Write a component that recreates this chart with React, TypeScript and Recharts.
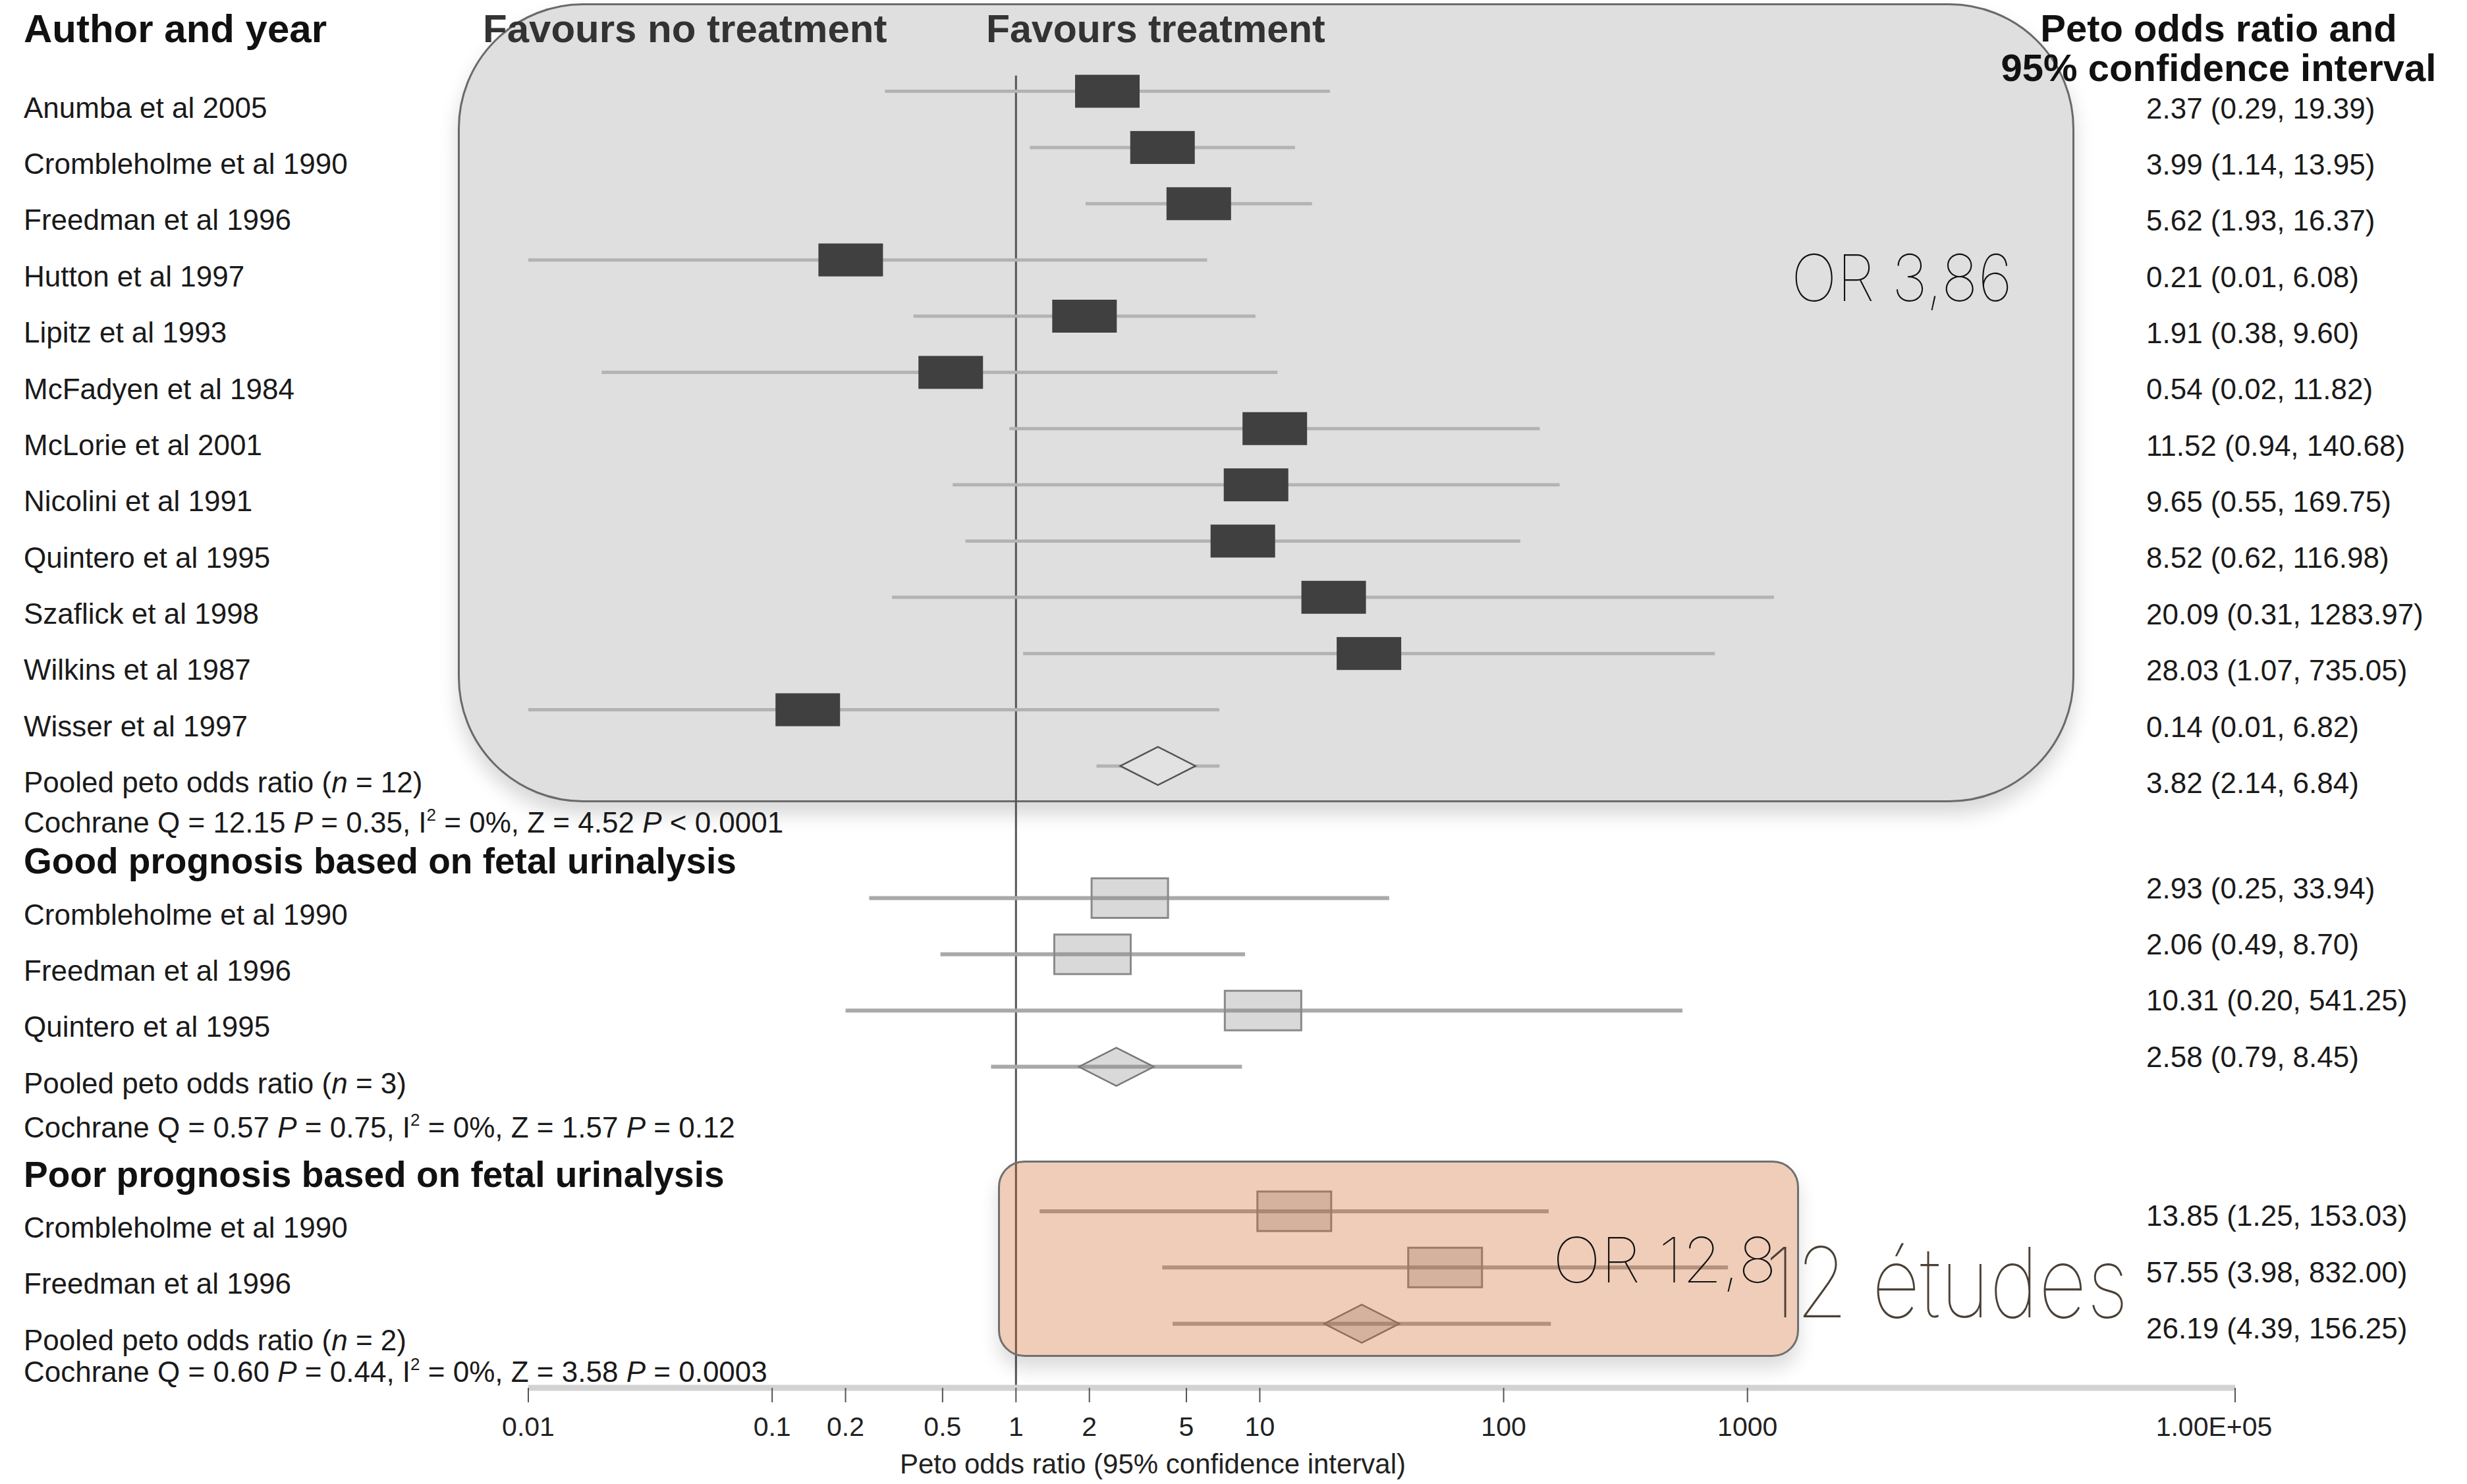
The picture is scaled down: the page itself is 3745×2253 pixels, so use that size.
import React from "react";
import { ComposedChart, Scatter, XAxis, YAxis, ErrorBar, ReferenceLine } from "recharts";

// all studies
const group1Names = [
  "Anumba et al 2005",
  "Crombleholme et al 1990",
  "Freedman et al 1996",
  "Hutton et al 1997",
  "Lipitz et al 1993",
  "McFadyen et al 1984",
  "McLorie et al 2001",
  "Nicolini et al 1991",
  "Quintero et al 1995",
  "Szaflick et al 1998",
  "Wilkins et al 1987",
  "Wisser et al 1997",
];
const group1OR = [2.37, 3.99, 5.62, 0.21, 1.91, 0.54, 11.52, 9.65, 8.52, 20.09, 28.03, 0.14];
const group1Lower = [0.29, 1.14, 1.93, 0.01, 0.38, 0.02, 0.94, 0.55, 0.62, 0.31, 1.07, 0.01];
const group1Upper = [19.39, 13.95, 16.37, 6.08, 9.6, 11.82, 140.68, 169.75, 116.98, 1283.97, 735.05, 6.82];

// good prognosis
const group2Names = ["Crombleholme et al 1990", "Freedman et al 1996", "Quintero et al 1995"];
const group2OR = [2.93, 2.06, 10.31];
const group2Lower = [0.25, 0.49, 0.2];
const group2Upper = [33.94, 8.7, 541.25];

// poor prognosis
const group3Names = ["Crombleholme et al 1990", "Freedman et al 1996"];
const group3OR = [13.85, 57.55];
const group3Lower = [1.25, 3.98];
const group3Upper = [153.03, 832.0];

const groupTitles = ["", "Good prognosis based on fetal urinalysis", "Poor prognosis based on fetal urinalysis"];

const pooledN = [12, 3, 2];
const pooledOR = [3.82, 2.58, 26.19];
const pooledLower = [2.14, 0.79, 4.39];
const pooledUpper = [6.84, 8.45, 156.25];

const cochraneQ = ["12.15", "0.57", "0.60"];
const cochraneP = ["0.35", "0.75", "0.44"];
const iSquared = ["0%", "0%", "0%"];
const zValues = ["4.52", "1.57", "3.58"];
const zP = ["< 0.0001", "= 0.12", "= 0.0003"];

const xTicks = [0.01, 0.1, 0.2, 0.5, 1, 2, 5, 10, 100, 1000, 100000];

// layout
const FONT = "'Liberation Sans', Arial, Helvetica, sans-serif";
const THIN = "Inter, 'Liberation Sans', sans-serif";
const W = 3745;
const H = 2253;
const Y_DOMAIN: [number, number] = [-0.5, 24.06];
const GROUP_START = [1, 15.35, 20.92];
const LABEL_OFF = 0.29;
const CI_OFF = [0.3, -0.18, 0.08];
const COCHRANE_OFF = [1.0, 1.08, 0.85];
const TITLE_OFF = -0.66;
const HEADER_Y = -0.12;

const MARK_STYLE = [
  { boxW: 98, boxH: 50, boxFill: "#404040", boxStroke: "none", line: "#b3b3b3", lineW: 5, dFill: "#e2e2e2", dStroke: "#555" },
  { boxW: 116, boxH: 60, boxFill: "rgba(128,128,128,0.3)", boxStroke: "#8a8a8a", line: "#a9a9a9", lineW: 6, dFill: "rgba(128,128,128,0.3)", dStroke: "#777" },
  { boxW: 112, boxH: 60, boxFill: "rgba(128,128,128,0.3)", boxStroke: "#8a8a8a", line: "#a9a9a9", lineW: 6, dFill: "rgba(128,128,128,0.3)", dStroke: "#777" },
];

const groups = [
  { names: group1Names, or: group1OR, lo: group1Lower, hi: group1Upper },
  { names: group2Names, or: group2OR, lo: group2Lower, hi: group2Upper },
  { names: group3Names, or: group3OR, lo: group3Lower, hi: group3Upper },
];

const fmt = (v: number) => v.toFixed(2);
const key = (v: number) => v.toFixed(3);

type TextItem = {
  x: number;
  anchor: "start" | "middle";
  size: number;
  bold?: boolean;
  color: string;
  content: React.ReactNode;
};

const leftMap = new Map<string, TextItem[]>();
const leftTicks: number[] = [];
const rightMap = new Map<string, TextItem[]>();
const rightTicks: number[] = [];

function addText(map: Map<string, TextItem[]>, ticks: number[], y: number, item: TextItem) {
  const k = key(y);
  if (!map.has(k)) {
    map.set(k, []);
    ticks.push(Number(k));
  }
  map.get(k)!.push(item);
}

const LABEL_X = 36;
const CI_X = 3258;
const PETO_X = 3368;
const plain = (content: React.ReactNode): TextItem => ({ x: LABEL_X, anchor: "start", size: 44, color: "#1a1a1a", content });
const ci = (content: React.ReactNode): TextItem => ({ x: CI_X, anchor: "start", size: 44, color: "#1a1a1a", content });

addText(leftMap, leftTicks, HEADER_Y, { x: LABEL_X, anchor: "start", size: 60, bold: true, color: "#111", content: "Author and year" });
addText(leftMap, leftTicks, HEADER_Y, { x: 733, anchor: "start", size: 60, bold: true, color: "#333", content: "Favours no treatment" });
addText(leftMap, leftTicks, HEADER_Y, { x: 1497, anchor: "start", size: 59, bold: true, color: "#333", content: "Favours treatment" });
addText(rightMap, rightTicks, HEADER_Y, { x: PETO_X, anchor: "middle", size: 58, bold: true, color: "#111", content: "Peto odds ratio and" });
addText(rightMap, rightTicks, 0.58, { x: PETO_X, anchor: "middle", size: 58, bold: true, color: "#111", content: "95% confidence interval" });

const seriesData = groups.map((g, gi) => {
  const start = GROUP_START[gi];
  if (groupTitles[gi]) {
    addText(leftMap, leftTicks, start + TITLE_OFF, { x: LABEL_X, anchor: "start", size: 55, bold: true, color: "#111", content: groupTitles[gi] });
  }
  const pts = g.names.map((name, i) => {
    const y = start + i;
    addText(leftMap, leftTicks, y + LABEL_OFF, plain(name));
    addText(rightMap, rightTicks, y + CI_OFF[gi], ci(`${fmt(g.or[i])} (${fmt(g.lo[i])}, ${fmt(g.hi[i])})`));
    return { x: g.or[i], y, err: [g.or[i] - g.lo[i], g.hi[i] - g.or[i]], pooled: false };
  });
  const py = start + g.names.length;
  addText(leftMap, leftTicks, py + LABEL_OFF, plain(
    <>
      Pooled peto odds ratio (<tspan fontStyle="italic">n</tspan> = {pooledN[gi]})
    </>
  ));
  addText(rightMap, rightTicks, py + CI_OFF[gi], ci(`${fmt(pooledOR[gi])} (${fmt(pooledLower[gi])}, ${fmt(pooledUpper[gi])})`));
  addText(leftMap, leftTicks, py + COCHRANE_OFF[gi], plain(
    <>
      Cochrane Q = {cochraneQ[gi]} <tspan fontStyle="italic">P</tspan> = {cochraneP[gi]}, I
      <tspan fontSize={26} dy={-18}>2</tspan>
      <tspan dy={18}> = {iSquared[gi]}, Z = {zValues[gi]} </tspan>
      <tspan fontStyle="italic">P</tspan> {zP[gi]}
    </>
  ));
  pts.push({
    x: pooledOR[gi],
    y: py,
    err: [pooledOR[gi] - pooledLower[gi], pooledUpper[gi] - pooledOR[gi]],
    pooled: true,
  });
  return pts;
});

const renderTick = (map: Map<string, TextItem[]>) => (props: any) => {
  const items = map.get(key(props.payload.value)) ?? [];
  return (
    <g>
      {items.map((it, i) => (
        <text
          key={i}
          x={it.x}
          y={props.y}
          dy="0.35em"
          textAnchor={it.anchor}
          fontSize={it.size}
          fontWeight={it.bold ? 700 : 400}
          fill={it.color}
          fontFamily={FONT}
        >
          {it.content}
        </text>
      ))}
    </g>
  );
};

// the 1e5 label sits a bit left of its tick in the original
const XTick = (props: any) => {
  const v = props.payload.value as number;
  return (
    <text
      x={props.x + (v === 100000 ? -32 : 0)}
      y={props.y}
      dy="0.71em"
      textAnchor="middle"
      fontSize={41}
      fill="#222"
      fontFamily={FONT}
    >
      {v === 100000 ? "1.00E+05" : String(v)}
    </text>
  );
};

const makeShape = (gi: number) => (props: any) => {
  const { cx, cy, payload } = props;
  if (cx == null || cy == null) return <g />;
  const s = MARK_STYLE[gi];
  if (payload.pooled) {
    const w = 114;
    const h = 58;
    return (
      <polygon
        points={`${cx - w / 2},${cy} ${cx},${cy - h / 2} ${cx + w / 2},${cy} ${cx},${cy + h / 2}`}
        fill={s.dFill}
        stroke={s.dStroke}
        strokeWidth={2.5}
      />
    );
  }
  return (
    <rect
      x={cx - s.boxW / 2}
      y={cy - s.boxH / 2}
      width={s.boxW}
      height={s.boxH}
      fill={s.boxFill}
      stroke={s.boxStroke}
      strokeWidth={3}
    />
  );
};

export default function App() {
  return (
    <div style={{ position: "absolute", left: 0, top: 0, width: W, height: H, background: "#fff", overflow: "hidden" }}>
      <div
        style={{
          position: "absolute",
          left: 695,
          top: 5,
          width: 2454,
          height: 1213,
          boxSizing: "border-box",
          borderRadius: 190,
          background: "#dfdfdf",
          border: "3px solid #6a6a6a",
          boxShadow: "0 18px 30px rgba(0,0,0,0.16)",
        }}
      />
      <div style={{ position: "absolute", left: 0, top: 0 }}>
        <ComposedChart width={W} height={H} margin={{ top: 10.5, right: 0, bottom: 6, left: 0 }}>
          <XAxis
            type="number"
            dataKey="x"
            scale="log"
            domain={[0.01, 100000]}
            allowDataOverflow
            ticks={xTicks}
            interval={0}
            height={140}
            tick={<XTick />}
            axisLine={{ stroke: "#d2d2d2", strokeWidth: 9 }}
            tickLine={{ stroke: "#555", strokeWidth: 2 }}
            tickSize={22}
            tickMargin={22}
          />
          <YAxis
            yAxisId="left"
            type="number"
            dataKey="y"
            domain={Y_DOMAIN}
            allowDataOverflow
            reversed
            width={802}
            ticks={leftTicks}
            interval={0}
            axisLine={false}
            tickLine={false}
            tick={renderTick(leftMap)}
          />
          <YAxis
            yAxisId="right"
            orientation="right"
            type="number"
            domain={Y_DOMAIN}
            allowDataOverflow
            reversed
            width={352}
            ticks={rightTicks}
            interval={0}
            axisLine={false}
            tickLine={false}
            tick={renderTick(rightMap)}
          />
          <ReferenceLine
            yAxisId="left"
            segment={[
              { x: 1, y: 0.72 },
              { x: 1, y: Y_DOMAIN[1] },
            ]}
            stroke="#555"
            strokeWidth={3}
          />
          {seriesData.map((data, gi) => (
            <Scatter
              key={gi}
              yAxisId="left"
              data={data}
              dataKey="y"
              shape={makeShape(gi)}
              isAnimationActive={false}
            >
              <ErrorBar
                dataKey="err"
                direction="x"
                width={0}
                stroke={MARK_STYLE[gi].line}
                strokeWidth={MARK_STYLE[gi].lineW}
                isAnimationActive={false}
              />
            </Scatter>
          ))}
        </ComposedChart>
      </div>
      <div
        style={{
          position: "absolute",
          left: 1515,
          top: 1762,
          width: 1216,
          height: 298,
          boxSizing: "border-box",
          borderRadius: 40,
          background: "rgba(205,90,20,0.3)",
          border: "3px solid #707070",
          boxShadow: "0 18px 28px rgba(0,0,0,0.14)",
        }}
      />
      <svg width={W} height={H} style={{ position: "absolute", left: 0, top: 0, pointerEvents: "none" }}>
        <text x={2719} y={457} fontSize={98} fontFamily={THIN} fontWeight={100} fill="#111" textLength={336} lengthAdjust="spacingAndGlyphs">
          OR 3,86
        </text>
        <text x={2357} y={1947} fontSize={95} fontFamily={THIN} fontWeight={100} fill="#111" textLength={340} lengthAdjust="spacingAndGlyphs">
          OR 12,8
        </text>
        <text
          transform="translate(2679,2000) scale(1,1.25)"
          x={0}
          y={0}
          fontSize={118}
          fontFamily={THIN}
          fontWeight={100}
          fill="#4a4036"
          textLength={552}
          lengthAdjust="spacingAndGlyphs"
        >
          12 études
        </text>
        <text x={1750} y={2222} dy="0.35em" textAnchor="middle" fontSize={42} fontFamily={FONT} fill="#222">
          Peto odds ratio (95% confidence interval)
        </text>
      </svg>
    </div>
  );
}
